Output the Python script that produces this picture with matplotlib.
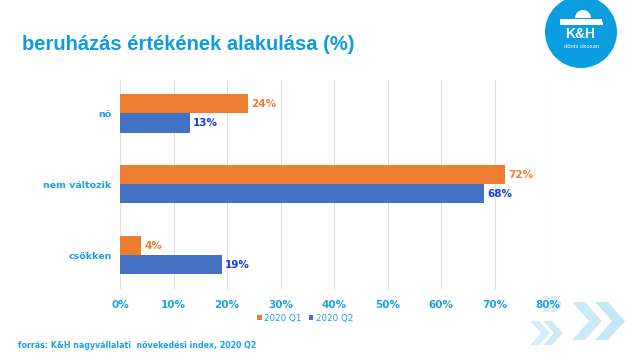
import numpy as np
import matplotlib
matplotlib.use("Agg")
import matplotlib.pyplot as plt
from matplotlib.patches import Circle, Polygon, Wedge

categories = ["csökken", "nem változik", "nő"]
q1 = [4, 72, 24]
q2 = [19, 68, 13]
series_names = ["2020 Q1", "2020 Q2"]
xticks = [0, 10, 20, 30, 40, 50, 60, 70, 80]

ORANGE = "#ED7D31"
BLUE = "#4472C4"
LABEL_BLUE = "#1A3CD6"
CYAN = "#1BA1E2"

fig = plt.figure(figsize=(6.4, 3.6), dpi=100)
ax = fig.add_axes([120 / 640, 1 - 290 / 360, 428 / 640, 210 / 360])

y = np.arange(len(categories))
h = 0.27
ax.barh(y + h / 2, q1, height=h, color=ORANGE, label=series_names[0], zorder=3)
ax.barh(y - h / 2, q2, height=h, color=BLUE, label=series_names[1], zorder=3)

for yi, v in zip(y, q1):
    ax.text(v + 0.6, yi + h / 2, f"{v}%", va="center", ha="left", color=ORANGE,
            fontsize=7.5, fontweight="bold")
for yi, v in zip(y, q2):
    ax.text(v + 0.6, yi - h / 2, f"{v}%", va="center", ha="left", color=LABEL_BLUE,
            fontsize=7.5, fontweight="bold")

ax.set_xlim(0, 80)
ax.set_ylim(-0.49, 2.47)
ax.set_xticks(xticks)
ax.set_xticklabels([f"{t}%" for t in xticks])
ax.set_yticks(y)
ax.set_yticklabels(categories)
ax.tick_params(axis="both", length=0, colors=CYAN)
ax.tick_params(axis="x", pad=7, labelsize=7.5)
ax.tick_params(axis="y", pad=6, labelsize=6.8)
for lab in ax.get_xticklabels() + ax.get_yticklabels():
    lab.set_fontweight("bold")
ax.grid(axis="x", color="#e0e0e0", lw=0.8, zorder=0)
for sp in ax.spines.values():
    sp.set_visible(False)

leg = fig.legend(loc="center", bbox_to_anchor=(305 / 640, 1 - 318 / 360), ncol=2,
                 frameon=False, handlelength=0.5, handleheight=0.5,
                 handletextpad=0.3, columnspacing=0.8, prop={"family": "DejaVu Sans", "size": 6.3})
for t in leg.get_texts():
    t.set_color(CYAN)

fig.text(22 / 640, 1 - 45 / 360, "beruházás értékének alakulása (%)", fontsize=14.5,
         fontweight="bold", color="#0a9de0", family="Liberation Sans", va="center", ha="left")
fig.text(18 / 640, 1 - 345 / 360, "forrás: K&H nagyvállalati  növekedési index, 2020 Q2",
         fontsize=5.7, fontweight="bold", color=CYAN, va="center", ha="left")

# logo and decoration, in pixel coordinates
deco = fig.add_axes([0, 0, 1, 1], zorder=-1)
deco.set_xlim(0, 640)
deco.set_ylim(360, 0)
deco.axis("off")
deco.add_patch(Circle((581, 32), 36, color="#0a9de0", lw=0))
deco.add_patch(Wedge((583, 18), 8, 180, 360, color="white", lw=0))
deco.add_patch(Polygon([(560, 19), (602, 19), (602, 22), (560, 22)], color="white", lw=0))
deco.add_patch(Polygon([(560, 22), (603, 22), (603, 25), (560, 25)], color="white", lw=0))
deco.text(580, 34, "K&H", color="white", fontsize=10, fontweight="bold", ha="center", va="center",
          family="Liberation Sans")
deco.text(582, 47, "dönts okosan", color="white", fontsize=4.2, ha="center", va="center",
          family="Liberation Sans")


def chevron(x, y0, w, hgt, t, alpha):
    pts = [(x, y0), (x + t, y0), (x + w, y0 + hgt / 2), (x + t, y0 + hgt),
           (x, y0 + hgt), (x + w - t, y0 + hgt / 2)]
    deco.add_patch(Polygon(pts, color="#9fdaf4", alpha=alpha, lw=0))


chevron(572, 302, 30, 38, 13, 0.55)
chevron(595, 302, 30, 38, 13, 0.6)
chevron(530, 321, 20, 24, 9, 0.45)
chevron(543, 321, 20, 24, 9, 0.55)
chevron(542, 296, 13, 16, 6, 0.4)
chevron(550, 296, 12, 16, 6, 0.45)

fig.savefig("out.png", dpi=100, facecolor="white")
